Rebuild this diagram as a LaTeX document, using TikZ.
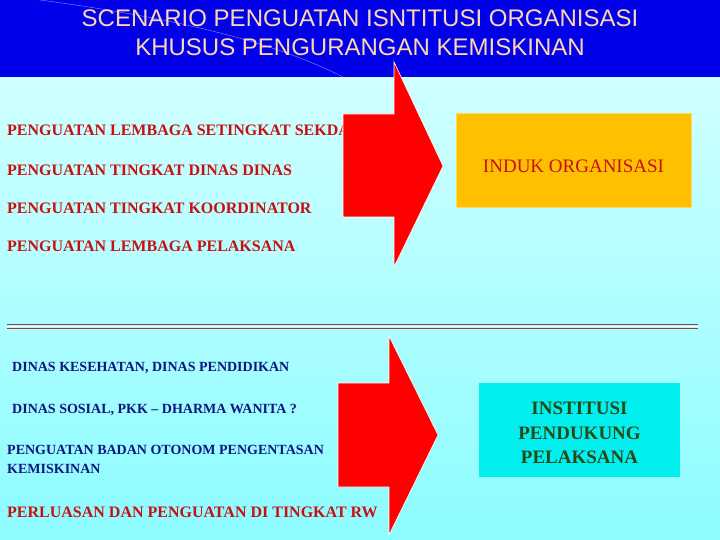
\documentclass[tikz,border=0pt]{standalone}
\usepackage{fontspec}
\setmainfont{Liberation Serif}
\newfontfamily\titlefont{Liberation Sans}
\usepackage{tikz}
\usetikzlibrary{positioning, calc}

\definecolor{barblue}{RGB}{0,0,235}
\definecolor{titlepeach}{RGB}{255,214,178}
\definecolor{bgtop}{RGB}{208,255,255}
\definecolor{bgbottom}{RGB}{140,252,255}
\definecolor{arrowred}{RGB}{255,0,0}
\definecolor{textred}{RGB}{200,16,16}
\definecolor{textnavy}{RGB}{12,22,128}
\definecolor{textgreen}{RGB}{42,72,22}
\definecolor{boxorange}{RGB}{255,192,0}
\definecolor{boxcyan}{RGB}{0,240,240}
\definecolor{sepline}{RGB}{150,62,62}

\begin{document}
\begin{tikzpicture}[x=1pt,y=-1pt,
            item/.style={anchor=west,inner sep=0pt,font=\fontsize{16}{19}\selectfont\bfseries,text=textred},
            subitem/.style={anchor=west,inner sep=0pt,font=\fontsize{14}{19}\selectfont\bfseries,text=textnavy},
            bigarrow/.style={fill=arrowred,draw=white,line width=0.6pt},
            goal/.style={minimum width=235pt,minimum height=94pt,inner sep=0pt,align=center}]
            % background and title bar
            \useasboundingbox (0,0) rectangle (720,540);
            \shade[top color=bgtop,bottom color=bgbottom] (0,77) rectangle (720,540);
            \fill[barblue] (0,0) rectangle (720,77);
            \draw[blue!45!white,line width=0.4pt] (40,0) .. controls (190,20) and (280,45) .. (343,77);
            \node[font=\titlefont\fontsize{24}{29}\selectfont,text=titlepeach,align=center] (title) at (360,33)
                {SCENARIO PENGUATAN ISNTITUSI ORGANISASI\\KHUSUS PENGURANGAN KEMISKINAN};

            % upper part
            \node[item] (sekda) at (7,130) {PENGUATAN LEMBAGA SETINGKAT SEKDA};
            \node[item] (dinas) at (7,170) {PENGUATAN TINGKAT DINAS DINAS};
            \node[item] (koord) at (7,208) {PENGUATAN TINGKAT KOORDINATOR};
            \node[item] (pelak) at (7,246) {PENGUATAN LEMBAGA PELAKSANA};

            \draw[bigarrow] (343,114) -- (394,114) -- (394,62) -- (443,166) -- (394,267) -- (394,217) -- (343,217) -- cycle;

            \node[goal,fill=boxorange,draw=boxorange!60!white] (induk) at (573.5,160) {};
            \node[font=\fontsize{19}{23}\selectfont,text=textred] (induktext) at ($(induk.center)+(0,6)$) {INDUK ORGANISASI};

            % separator
            \draw[sepline,line width=0.9pt] (7,324.6) -- (698,324.6);
            \draw[sepline,line width=0.9pt] (7,328.6) -- (698,328.6);
            \draw[white,line width=0.6pt] (7,326.6) -- (698,326.6);

            % lower part
            \node[subitem] (sehat) at (12,368) {DINAS KESEHATAN, DINAS PENDIDIKAN};
            \node[subitem] (sosial) at (12,410) {DINAS SOSIAL, PKK -- DHARMA WANITA ?};
            \node[subitem,align=left] (otonom) at (7,459) {PENGUATAN BADAN OTONOM PENGENTASAN\\KEMISKINAN};
            \node[item] (rw) at (7,512) {PERLUASAN DAN PENGUATAN DI TINGKAT RW};

            \draw[bigarrow] (338,383) -- (389,383) -- (389,336) -- (438,435) -- (389,535) -- (389,487) -- (338,487) -- cycle;

            \node[goal,fill=boxcyan,minimum width=201pt] (pendukung) at (579.5,430) {};
            \node[font=\fontsize{19}{24.5}\selectfont\bfseries,text=textgreen,align=center] (pendukungtext)
                at ($(pendukung.center)+(0,3)$) {INSTITUSI\\PENDUKUNG\\PELAKSANA};
\end{tikzpicture}
\end{document}
